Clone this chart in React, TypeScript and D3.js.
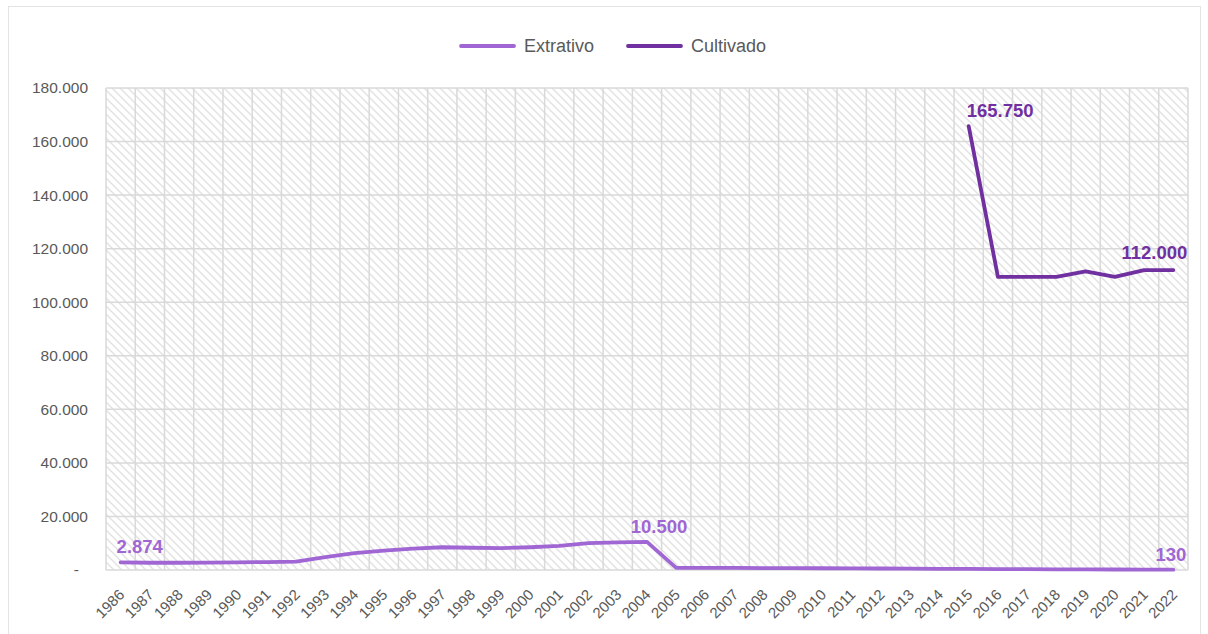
import React from "react";
import * as d3 from "d3";

const years: string[] = d3.range(1986, 2023).map(String);
const extrativo: (number | null)[] = [
  2874, 2700, 2700, 2750, 2850, 2950, 3100, 4850, 6300, 7200, 8000, 8500, 8300,
  8200, 8500, 9000, 10000, 10300, 10500, 800, 780, 760, 720, 690, 650, 600, 560,
  500, 450, 400, 350, 300, 260, 220, 190, 160, 130,
];
const cultivado: (number | null)[] = [
  null, null, null, null, null, null, null, null, null, null, null, null, null,
  null, null, null, null, null, null, null, null, null, null, null, null, null,
  null, null, null, 165750, 109500, 109500, 109500, 111500, 109500, 112000, 112000,
];
const yTicks: number[] = [0, 20000, 40000, 60000, 80000, 100000, 120000, 140000, 160000, 180000];
const seriesNames: string[] = ["Extrativo", "Cultivado"];

const W = 1208;
const H = 634;
const M = { left: 106, right: 1188, top: 88, bottom: 570 };
const COL_EXT = "#A066D3";
const COL_CUL = "#7030A0";
const FONT = "'Liberation Sans', Arial, sans-serif";

const fmt = (v: number) => (v === 0 ? "-" : d3.format(",")(v).replace(/,/g, "."));

export default function App() {
  const x = d3.scaleBand<string>().domain(years).range([M.left, M.right]);
  const y = d3.scaleLinear().domain([0, 180000]).range([M.bottom, M.top]);
  const cx = (yr: string) => (x(yr) as number) + x.bandwidth() / 2;

  const line = d3
    .line<number | null>()
    .defined((d) => d !== null)
    .x((_, i) => cx(years[i]))
    .y((d) => y(d as number));

  const boundaries = years.map((yr) => x(yr) as number).concat([M.right]);

  const iExt0 = 0;
  const iExtMax = extrativo.indexOf(10500);
  const iLast = years.length - 1;
  const iCulMax = cultivado.indexOf(165750);

  return (
    <svg width={W} height={H} style={{ position: "absolute", left: 0, top: 0 }} fontFamily={FONT}>
      <defs>
        <pattern id="hatch" width="8" height="8" patternUnits="userSpaceOnUse">
          <rect width="8" height="8" fill="#ffffff" />
          <path d="M-1,-1 L9,9 M-1,7 L1,9 M7,-1 L9,1" stroke="#e3e3e3" strokeWidth="1.5" />
        </pattern>
      </defs>
      <rect x={0} y={0} width={W} height={H} fill="#fff" />
      <rect x={8.5} y={6.5} width={1192} height={640} fill="none" stroke="#e3e3e3" />
      <rect x={M.left} y={M.top} width={M.right - M.left} height={M.bottom - M.top} fill="url(#hatch)" />
      {yTicks.map((t) => (
        <line key={"h" + t} x1={M.left} x2={M.right} y1={y(t)} y2={y(t)} stroke="#d9d9d9" strokeWidth={1.5} />
      ))}
      {boundaries.map((b, i) => (
        <line key={"v" + i} x1={b} x2={b} y1={M.top} y2={M.bottom} stroke="#d9d9d9" strokeWidth={1.5} />
      ))}
      {yTicks.map((t) => (
        <text key={"yt" + t} x={t === 0 ? 79 : 88} y={y(t)} dy="0.35em" textAnchor="end" fontSize={15.5} fill="#595959">
          {fmt(t)}
        </text>
      ))}
      {years.map((yr) => (
        <text
          key={"xt" + yr}
          transform={`translate(${cx(yr) + 1},${M.bottom + 22}) rotate(-45)`}
          textAnchor="end"
          dy="0.35em"
          fontSize={15}
          fill="#595959"
        >
          {yr}
        </text>
      ))}
      <path d={line(extrativo) || ""} fill="none" stroke={COL_EXT} strokeWidth={3.8} strokeLinejoin="round" strokeLinecap="round" />
      <path d={line(cultivado) || ""} fill="none" stroke={COL_CUL} strokeWidth={3.8} strokeLinejoin="round" strokeLinecap="round" />

      <text x={cx(years[iExt0]) - 4} y={y(extrativo[iExt0] as number) - 9} fontSize={18.5} fontWeight="bold" fill={COL_EXT}>
        {fmt(extrativo[iExt0] as number)}
      </text>
      <text x={cx(years[iExtMax]) + 12} y={y(extrativo[iExtMax] as number) - 9} textAnchor="middle" fontSize={18.5} fontWeight="bold" fill={COL_EXT}>
        {fmt(extrativo[iExtMax] as number)}
      </text>
      <text x={cx(years[iLast]) + 13} y={y(extrativo[iLast] as number) - 9} textAnchor="end" fontSize={18.5} fontWeight="bold" fill={COL_EXT}>
        {fmt(extrativo[iLast] as number)}
      </text>
      <text x={cx(years[iCulMax]) - 2} y={y(cultivado[iCulMax] as number) - 9} fontSize={18.5} fontWeight="bold" fill={COL_CUL}>
        {fmt(cultivado[iCulMax] as number)}
      </text>
      <text x={cx(years[iLast]) + 14} y={y(cultivado[iLast] as number) - 11} textAnchor="end" fontSize={18.5} fontWeight="bold" fill={COL_CUL}>
        {fmt(cultivado[iLast] as number)}
      </text>

      {seriesNames.map((n, i) => {
        const lx = i === 0 ? 461 : 628;
        const col = i === 0 ? COL_EXT : COL_CUL;
        return (
          <g key={n}>
            <line x1={lx} x2={lx + 53} y1={46} y2={46} stroke={col} strokeWidth={3.8} strokeLinecap="round" />
            <text x={lx + 63} y={46} dy="0.35em" fontSize={18} fill="#595959">
              {n}
            </text>
          </g>
        );
      })}
    </svg>
  );
}
